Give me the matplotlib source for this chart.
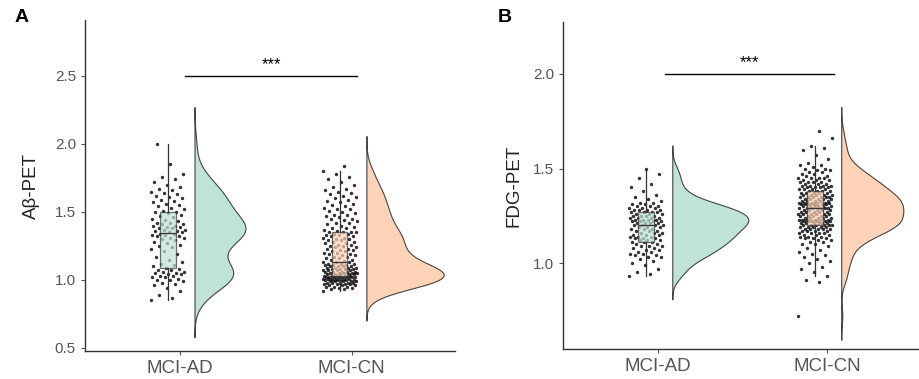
import numpy as np
import matplotlib.pyplot as plt

plt.rcParams['font.family'] = ['Liberation Sans', 'DejaVu Sans']

groups = ['MCI-AD', 'MCI-CN']
fill_colors = ['#BFE3D6', '#FFD3B8']

# panel A: amyloid PET (SUVR)
abeta_ad = [0.85, 0.87, 0.89, 0.92, 0.94, 0.96, 0.97, 0.98, 0.99, 1.00, 1.00, 1.01, 1.02, 1.02, 1.03, 1.03,
            1.04, 1.04, 1.05, 1.05, 1.06, 1.06, 1.07, 1.07, 1.08,
            1.09, 1.10, 1.11, 1.12, 1.13, 1.15, 1.17, 1.19, 1.21, 1.23, 1.24, 1.25, 1.26, 1.27, 1.28, 1.29,
            1.30, 1.31, 1.31, 1.32, 1.32, 1.33, 1.33, 1.34, 1.34,
            1.35, 1.35, 1.36, 1.36, 1.37, 1.37, 1.38, 1.38, 1.39, 1.39, 1.40, 1.40, 1.41, 1.41, 1.42, 1.42,
            1.43, 1.44, 1.45, 1.46, 1.47, 1.48, 1.49, 1.50, 1.50,
            1.51, 1.52, 1.53, 1.54, 1.55, 1.56, 1.57, 1.58, 1.59, 1.60, 1.61, 1.62, 1.63, 1.64, 1.65, 1.66,
            1.67, 1.68, 1.70, 1.72, 1.74, 1.76, 1.78, 1.85, 2.00]
abeta_cn = [0.92, 0.93, 0.93, 0.94, 0.94, 0.95, 0.95, 0.95, 0.96, 0.96, 0.96, 0.97, 0.97, 0.97, 0.97,
            0.98, 0.98, 0.98, 0.98, 0.98, 0.99, 0.99, 0.99, 0.99, 0.99, 1.00, 1.00, 1.00, 1.00, 1.00, 1.00,
            1.01, 1.01, 1.01, 1.01, 1.01, 1.01, 1.02, 1.02, 1.02, 1.02, 1.02, 1.02, 1.02, 1.02,
            1.03, 1.03, 1.03, 1.03, 1.03, 1.04, 1.04, 1.04, 1.04, 1.04, 1.05, 1.05, 1.05, 1.05, 1.05,
            1.06, 1.06, 1.06, 1.06, 1.06, 1.07, 1.07, 1.07, 1.07, 1.08, 1.08, 1.08, 1.08,
            1.09, 1.09, 1.09, 1.09, 1.10, 1.10, 1.10, 1.10, 1.11, 1.11, 1.11, 1.12, 1.12, 1.12, 1.13, 1.13, 1.13,
            1.14, 1.15, 1.15, 1.16, 1.16, 1.17, 1.17, 1.18, 1.18, 1.19, 1.19, 1.20, 1.20, 1.21, 1.21,
            1.22, 1.22, 1.23, 1.23, 1.24, 1.24, 1.25, 1.25, 1.26, 1.26, 1.27, 1.27, 1.28, 1.28, 1.29, 1.29,
            1.30, 1.30, 1.31, 1.31, 1.32, 1.32, 1.33, 1.33, 1.34, 1.34, 1.35, 1.35, 1.35, 1.35,
            1.36, 1.37, 1.38, 1.38, 1.39, 1.40, 1.41, 1.42, 1.42, 1.43, 1.44, 1.45, 1.45, 1.46, 1.47, 1.48,
            1.48, 1.49, 1.50, 1.51, 1.52, 1.52, 1.53, 1.54, 1.55, 1.56, 1.57, 1.58, 1.59, 1.60, 1.61, 1.62,
            1.63, 1.64, 1.65, 1.66, 1.67, 1.68, 1.70, 1.72, 1.74, 1.76, 1.78, 1.80, 1.84]

# panel B: FDG PET (SUVR)
fdg_ad = [0.93, 0.94, 0.95, 0.97, 0.99, 1.00, 1.01, 1.02, 1.03, 1.03, 1.04, 1.04,
          1.05, 1.05, 1.06, 1.06, 1.07, 1.07, 1.08, 1.08, 1.09, 1.09, 1.09, 1.10,
          1.10, 1.11, 1.11, 1.11, 1.12, 1.12, 1.12, 1.13, 1.13, 1.13, 1.14, 1.14, 1.14, 1.15, 1.15, 1.15,
          1.16, 1.16, 1.16, 1.17, 1.17, 1.17, 1.18, 1.18, 1.18, 1.19, 1.19, 1.19,
          1.20, 1.20, 1.20, 1.20, 1.21, 1.21, 1.21, 1.21, 1.22, 1.22, 1.22, 1.22, 1.23, 1.23, 1.23, 1.23,
          1.24, 1.24, 1.24, 1.24, 1.25, 1.25, 1.25, 1.25, 1.26, 1.26, 1.26,
          1.27, 1.27, 1.27, 1.27, 1.28, 1.28, 1.28, 1.28, 1.29, 1.29, 1.29, 1.30, 1.30, 1.30, 1.31, 1.31,
          1.32, 1.32, 1.33, 1.34, 1.35, 1.36, 1.38, 1.40, 1.42, 1.45, 1.47, 1.50]
fdg_cn = [0.72, 0.90, 0.91, 0.93, 0.95, 0.97, 0.98, 1.00, 1.01, 1.02, 1.03, 1.04, 1.05, 1.06, 1.07, 1.08,
          1.09, 1.10, 1.10, 1.11, 1.11, 1.12, 1.12, 1.13, 1.13, 1.13, 1.14, 1.14, 1.14, 1.15, 1.15, 1.15,
          1.16, 1.16, 1.16, 1.16, 1.17, 1.17, 1.17, 1.17, 1.18, 1.18, 1.18, 1.18, 1.18,
          1.19, 1.19, 1.19, 1.19, 1.19,
          1.20, 1.20, 1.20, 1.20, 1.20, 1.20, 1.21, 1.21, 1.21, 1.21, 1.21, 1.21, 1.22, 1.22, 1.22, 1.22,
          1.22, 1.22, 1.23, 1.23, 1.23, 1.23, 1.23, 1.23, 1.24, 1.24, 1.24, 1.24, 1.24, 1.25, 1.25, 1.25,
          1.25, 1.25, 1.26, 1.26, 1.26, 1.26, 1.26, 1.26, 1.27, 1.27, 1.27, 1.27, 1.27, 1.28, 1.28, 1.28,
          1.28, 1.28,
          1.29, 1.29, 1.29, 1.29, 1.29, 1.29, 1.30, 1.30, 1.30, 1.30, 1.30, 1.30, 1.31, 1.31, 1.31, 1.31,
          1.31, 1.31, 1.32, 1.32, 1.32, 1.32, 1.32, 1.32, 1.33, 1.33, 1.33, 1.33, 1.33, 1.34, 1.34, 1.34,
          1.34, 1.34, 1.35, 1.35, 1.35, 1.35, 1.35, 1.35, 1.36, 1.36, 1.36, 1.36, 1.36, 1.37, 1.37, 1.37,
          1.37, 1.37,
          1.38, 1.38, 1.38, 1.38, 1.39, 1.39, 1.39, 1.39, 1.40, 1.40, 1.40, 1.40, 1.41, 1.41, 1.41, 1.41,
          1.42, 1.42, 1.42, 1.43, 1.43, 1.43, 1.43, 1.44, 1.44, 1.44, 1.45, 1.45, 1.45, 1.45, 1.46, 1.46,
          1.47, 1.47, 1.48, 1.48, 1.49, 1.49, 1.50, 1.50, 1.51, 1.52, 1.52, 1.53, 1.55, 1.57, 1.60, 1.61,
          1.62, 1.66, 1.70]


def bw_nrd0(v):
    sd = np.std(v, ddof=1)
    iqr = np.subtract(*np.percentile(v, [75, 25]))
    return 0.9 * min(sd, iqr / 1.34) * len(v) ** (-0.2)


def kde(v):
    v = np.asarray(v)
    bw = bw_nrd0(v)
    grid = np.linspace(v.min() - 3 * bw, v.max() + 3 * bw, 400)
    d = np.exp(-0.5 * ((grid[:, None] - v[None, :]) / bw) ** 2).sum(axis=1)
    d /= len(v) * bw * np.sqrt(2 * np.pi)
    return grid, d


def raincloud(ax, data, max_width):
    dens = [kde(v) for v in data]
    scale = max_width / max(d.max() for _, d in dens)
    for i, v in enumerate(data):
        x = i + 1
        v = np.asarray(v)
        # half violin
        grid, d = dens[i]
        ax.fill_betweenx(grid, x + 0.085, x + 0.085 + d * scale, facecolor=fill_colors[i],
                         edgecolor='#444444', lw=0.8, zorder=2)
        # jittered points
        jit = ((np.arange(len(v)) * 0.6180339887) % 1 - 0.5) * 0.2
        ax.scatter(x - 0.07 + jit, v, s=6, color='black', alpha=0.8, lw=0, zorder=3)
        # box
        bp = ax.boxplot(v, positions=[x - 0.07], widths=0.09, patch_artist=True, showfliers=False,
                        showcaps=False, whis=1.5, manage_ticks=False, zorder=4)
        for b in bp['boxes']:
            b.set_facecolor(fill_colors[i])
            b.set_alpha(0.7)
            b.set_edgecolor('#333333')
            b.set_linewidth(0.9)
        for w in bp['whiskers']:
            w.set_color('#333333')
            w.set_linewidth(0.9)
        for m in bp['medians']:
            m.set_color('#333333')
            m.set_linewidth(0.9)


def style(ax, ylabel, yticks, ylim, xlim, lx):
    ax.set_xlim(*xlim)
    ax.set_ylim(*ylim)
    ax.set_xticks([1, 2])
    ax.set_xticklabels(groups)
    ax.set_yticks(yticks)
    ax.set_yticklabels(['%.1f' % t for t in yticks])
    for s in ['top', 'right']:
        ax.spines[s].set_visible(False)
    for s in ['left', 'bottom']:
        ax.spines[s].set_color('#333333')
        ax.spines[s].set_linewidth(1.0)
    ax.tick_params(axis='y', labelsize=11, labelcolor='#555555', color='#555555', length=3)
    ax.tick_params(axis='x', labelsize=13.5, labelcolor='#555555', color='#555555', length=3)
    ax.set_ylabel(ylabel, fontsize=13.5, color='#222222')
    ax.yaxis.set_label_coords(lx, 0.5)


fig = plt.figure(figsize=(9.19, 3.79), dpi=100)
axA = fig.add_axes([0.0925, 0.074, 0.4025, 0.873])
axB = fig.add_axes([0.6126, 0.079, 0.3864, 0.863])

raincloud(axA, [abeta_ad, abeta_cn], 0.45)
style(axA, 'A\u03b2-PET', [0.5, 1.0, 1.5, 2.0, 2.5], (0.478, 2.91), (0.448, 2.6), -0.122)
axA.plot([1.03, 2.03], [2.5, 2.5], color='black', lw=1)
axA.text(1.53, 2.53, '***', ha='center', va='bottom', fontsize=12)

raincloud(axB, [fdg_ad, fdg_cn], 0.45)
style(axB, 'FDG-PET', [1.0, 1.5, 2.0], (0.545, 2.275), (0.438, 2.54), -0.115)
axB.plot([1.04, 2.04], [2.0, 2.0], color='black', lw=1)
axB.text(1.54, 2.02, '***', ha='center', va='bottom', fontsize=12)

fig.text(22 / 919, 1 - 18 / 379, 'A', fontsize=14, fontweight='bold', ha='center', va='center')
fig.text(505 / 919, 1 - 17 / 379, 'B', fontsize=14, fontweight='bold', ha='center', va='center')

fig.savefig('out.png', dpi=100)
